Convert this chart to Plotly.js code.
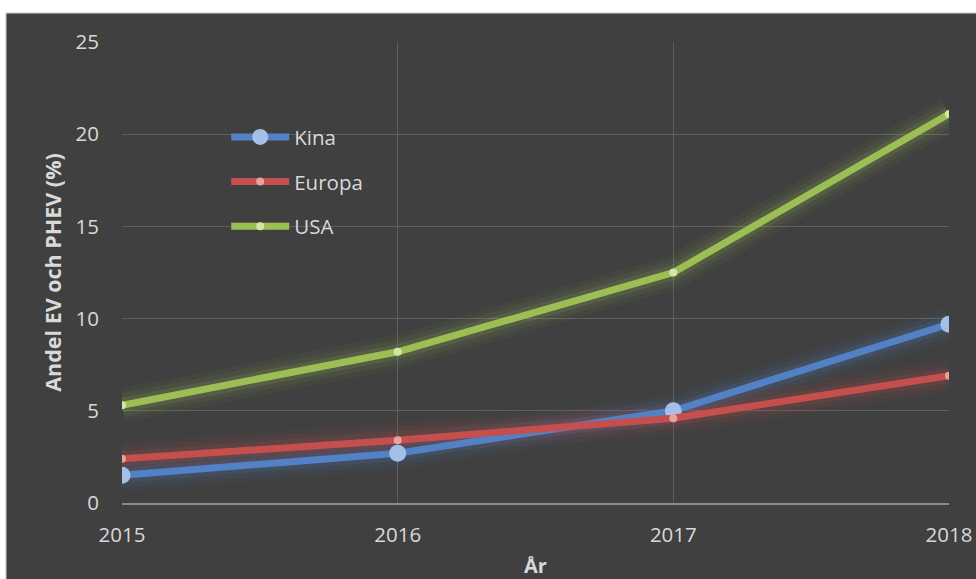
<!DOCTYPE html>
<html>
<head>
<meta charset="utf-8">
<script src="https://cdn.plot.ly/plotly-3.0.1.min.js"></script>
<style>html,body{margin:0;padding:0;background:#fff;}#chart{width:976px;height:579px;}</style>
</head>
<body>
<div id="chart"></div>
<script>
var years = [2015, 2016, 2017, 2018];
var kina = [1.5, 2.7, 5.0, 9.7];
var europa = [2.4, 3.4, 4.6, 6.9];
var usa = [5.3, 8.2, 12.5, 21.1];
var yTicks = [0, 5, 10, 15, 20, 25];
var seriesNames = ['Kina', 'Europa', 'USA'];
var lineColors = ['#5281c6', '#c44f4d', '#9cbf55'];
var glowColors = ['rgba(82,129,198,', 'rgba(196,79,77,', 'rgba(156,191,85,'];
var markerColors = ['#a4bfe8', '#e8a2a0', '#d3e6aa'];
var markerSizes = [17, 8, 8];
var seriesData = [kina, europa, usa];

var font = '"Open Sans", "Noto Sans", sans-serif';
var textColor = '#d9d9d9';
var traces = [];
var glowWidths = [34, 24, 15];
var glowAlphas = [0.05, 0.08, 0.14];
for (var i = 0; i < 3; i++) {
  for (var g = 0; g < glowWidths.length; g++) {
    traces.push({x: years, y: seriesData[i], type: 'scatter', mode: 'lines',
      line: {color: glowColors[i] + glowAlphas[g] + ')', width: glowWidths[g]},
      showlegend: false, hoverinfo: 'skip'});
  }
}
for (var i = 0; i < 3; i++) {
  traces.push({x: years, y: seriesData[i], type: 'scatter', mode: 'lines+markers',
    name: seriesNames[i], legendgroup: seriesNames[i],
    line: {color: lineColors[i], width: 7},
    marker: {color: markerColors[i], size: markerSizes[i], line: {width: 0}}});
}

var layout = {
  width: 976, height: 579,
  margin: {l: 122, r: 27, t: 42, b: 76},
  paper_bgcolor: '#ffffff',
  plot_bgcolor: 'rgba(0,0,0,0)',
  font: {family: font, color: textColor, size: 20.5},
  showlegend: true,
  legend: {x: 0.126, y: 0.837, xanchor: 'left', yanchor: 'top', bgcolor: 'rgba(0,0,0,0)',
    font: {size: 20.5, color: textColor}, itemwidth: 58, tracegroupgap: 15, traceorder: 'grouped'},
  shapes: [{type: 'rect', xref: 'paper', yref: 'paper', x0: -0.1403, x1: 1.04, y0: -0.18, y1: 1.0629,
    fillcolor: '#404040', line: {color: '#cfcfcf', width: 1}, layer: 'below'}],
  xaxis: {
    range: [2015, 2018], tickvals: years, ticktext: years.map(String),
    showgrid: true, gridcolor: '#5e5e5e', gridwidth: 1,
    showline: true, linecolor: '#8a8a8a', linewidth: 2, zeroline: false,
    ticks: 'outside', ticklen: 12, tickcolor: 'rgba(0,0,0,0)',
    tickfont: {size: 20.5, color: textColor},
    title: {text: '<b>År</b>', font: {size: 20, color: textColor}, standoff: 13}
  },
  yaxis: {
    range: [0, 25], tickvals: yTicks,
    showgrid: true, gridcolor: '#5e5e5e', gridwidth: 1,
    showline: false, zeroline: false,
    ticks: 'outside', ticklen: 18, tickcolor: 'rgba(0,0,0,0)',
    tickfont: {size: 20.5, color: textColor},
    title: {text: '<b>Andel EV och PHEV (%)</b>', font: {size: 21.5, color: textColor}, standoff: 7}
  }
};
Plotly.newPlot('chart', traces, layout, {displayModeBar: false, staticPlot: true});
</script>
</body>
</html>
